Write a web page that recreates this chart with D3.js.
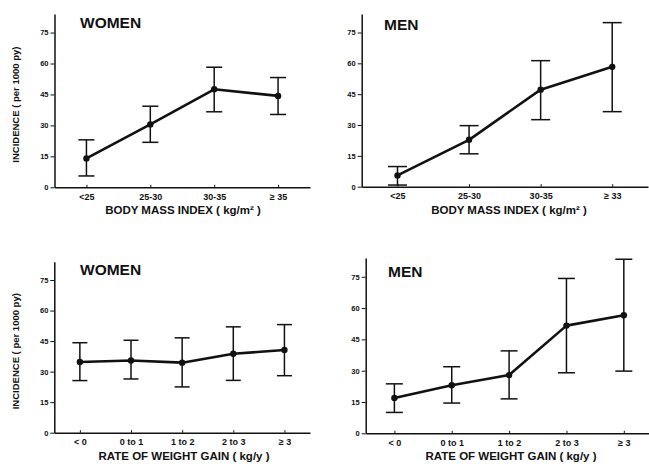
<!DOCTYPE html>
<html>
<head>
<meta charset="utf-8">
<script src="https://cdn.jsdelivr.net/npm/d3@7"></script>
<style>
    body { margin: 0; background: #fff; }
    svg { display: block; font-family: "Liberation Sans", Arial, sans-serif; }
    .tick text { font-weight: bold; fill: #111; }
    .domain, .tick line { stroke: #111; }
    .panel-title { font-weight: bold; font-size: 15.5px; fill: #111; }
    .axis-label { font-weight: bold; fill: #111; }
</style>
</head>
<body>
<div id="chart"></div>
<script>
// Categories
const bmiCats = ["<25", "25-30", "30-35", "≥ 35"];
const bmiCatsMen = ["<25", "25-30", "30-35", "≥ 33"];
const gainCats = ["< 0", "0 to 1", "1 to 2", "2 to 3", "≥ 3"];
const yTicks = [0, 15, 30, 45, 60, 75];

// Incidence per 1000 py, with lower / upper confidence limits
const womenBmi = [14, 30.5, 47.5, 44.3];
const womenBmiLo = [5.5, 21.8, 36.6, 35.3];
const womenBmiHi = [23, 39.3, 58.2, 53.2];

const menBmi = [5.5, 22.8, 47.2, 58.3];
const menBmiLo = [0.8, 16, 32.6, 36.5];
const menBmiHi = [9.8, 29.7, 61.3, 79.8];

const womenGain = [34.7, 35.5, 34.4, 38.8, 40.6];
const womenGainLo = [25.6, 26.4, 22.5, 25.7, 28];
const womenGainHi = [44.2, 45.4, 46.6, 52, 53.1];

const menGain = [16.9, 23, 27.9, 51.6, 56.6];
const menGainLo = [10, 14.5, 16.5, 29, 29.8];
const menGainHi = [23.7, 31.9, 39.5, 74.2, 83.4];

const width = 649, height = 464;

const svg = d3.select("#chart")
    .append("svg")
    .attr("width", width)
    .attr("height", height);

// Panel layout (pixel boxes for each small chart)
const panels = [
    { title: "WOMEN", cats: bmiCats, v: womenBmi, lo: womenBmiLo, hi: womenBmiHi,
      x0: 54.5, x1: 310, y0: 187.3, yTop: 14, titleX: 80, titleY: 28,
      xLabel: "BODY MASS INDEX ( kg/m² )", xLabelX: 183, xLabelY: 213.5, yLabel: true, cap: 8 },
    { title: "MEN", cats: bmiCatsMen, v: menBmi, lo: menBmiLo, hi: menBmiHi,
      x0: 361.7, x1: 648, y0: 186.7, yTop: 14, titleX: 384, titleY: 30,
      xLabel: "BODY MASS INDEX ( kg/m² )", xLabelX: 509, xLabelY: 214, yLabel: false, cap: 9.5 },
    { title: "WOMEN", cats: gainCats, v: womenGain, lo: womenGainLo, hi: womenGainHi,
      x0: 54.3, x1: 310, y0: 432.7, yTop: 261.7, titleX: 80, titleY: 275,
      xLabel: "RATE OF WEIGHT GAIN ( kg/y )", xLabelX: 184, xLabelY: 460, yLabel: true, cap: 7.5 },
    { title: "MEN", cats: gainCats, v: menGain, lo: menGainLo, hi: menGainHi,
      x0: 365.7, x1: 652.5, y0: 433.3, yTop: 258, titleX: 388, titleY: 277,
      xLabel: "RATE OF WEIGHT GAIN ( kg/y )", xLabelX: 511, xLabelY: 460, yLabel: false, cap: 8.5 }
];

panels.forEach(p => {
    const g = svg.append("g");

    // y axis runs a bit past 75
    const yTopValue = 84;
    const y = d3.scaleLinear()
        .domain([0, yTopValue])
        .range([p.y0, p.yTop]);
    const x = d3.scalePoint()
        .domain(p.cats)
        .range([p.x0, p.x1])
        .padding(0.5);

    /*************/
    /* Axes */
    /*************/
    const yAxis = g.append("g")
        .attr("transform", `translate(${p.x0},0)`)
        .call(d3.axisLeft(y).tickValues(yTicks).tickSizeInner(4).tickSizeOuter(0).tickPadding(2));
    yAxis.selectAll(".tick text").style("font-size", "7.5px");
    yAxis.select(".domain").attr("stroke-width", 1.5);

    const xAxis = g.append("g")
        .attr("transform", `translate(0,${p.y0})`)
        .call(d3.axisBottom(x).tickSizeInner(-2.5).tickSizeOuter(0).tickPadding(6));
    xAxis.selectAll(".tick text").style("font-size", "9px");
    xAxis.select(".domain").attr("stroke-width", 1.5);

    /*************/
    /* Error bars */
    /*************/
    const rows = p.cats.map((c, i) => ({ c, v: p.v[i], lo: p.lo[i], hi: p.hi[i] }));

    const bars = g.append("g")
        .attr("stroke", "#111")
        .attr("stroke-width", 1.5)
        .selectAll("g")
        .data(rows)
        .join("g");
    bars.append("line")
        .attr("x1", d => x(d.c)).attr("x2", d => x(d.c))
        .attr("y1", d => y(d.lo)).attr("y2", d => y(d.hi));
    bars.append("line")
        .attr("x1", d => x(d.c) - p.cap).attr("x2", d => x(d.c) + p.cap)
        .attr("y1", d => y(d.hi)).attr("y2", d => y(d.hi));
    bars.append("line")
        .attr("x1", d => x(d.c) - p.cap).attr("x2", d => x(d.c) + p.cap)
        .attr("y1", d => y(d.lo)).attr("y2", d => y(d.lo));

    /*************/
    /* Line + points */
    /*************/
    g.append("path")
        .datum(rows)
        .attr("fill", "none")
        .attr("stroke", "#111")
        .attr("stroke-width", 2.6)
        .attr("stroke-linejoin", "round")
        .attr("d", d3.line().x(d => x(d.c)).y(d => y(d.v)));

    g.selectAll("circle")
        .data(rows)
        .join("circle")
        .attr("cx", d => x(d.c))
        .attr("cy", d => y(d.v))
        .attr("r", 3.2)
        .attr("fill", "#111");

    /*************/
    /* Labels */
    /*************/
    g.append("text")
        .attr("class", "panel-title")
        .attr("x", p.titleX)
        .attr("y", p.titleY)
        .text(p.title);

    g.append("text")
        .attr("class", "axis-label")
        .attr("text-anchor", "middle")
        .attr("x", p.xLabelX)
        .attr("y", p.xLabelY)
        .style("font-size", "11.5px")
        .text(p.xLabel);

    if (p.yLabel) {
        g.append("text")
            .attr("class", "axis-label")
            .attr("text-anchor", "middle")
            .attr("transform", `translate(18.5,${(p.y0 + p.yTop) / 2 + 4}) rotate(-90)`)
            .style("font-size", "9.5px")
            .text("INCIDENCE ( per 1000 py)");
    }
});
</script>
</body>
</html>
